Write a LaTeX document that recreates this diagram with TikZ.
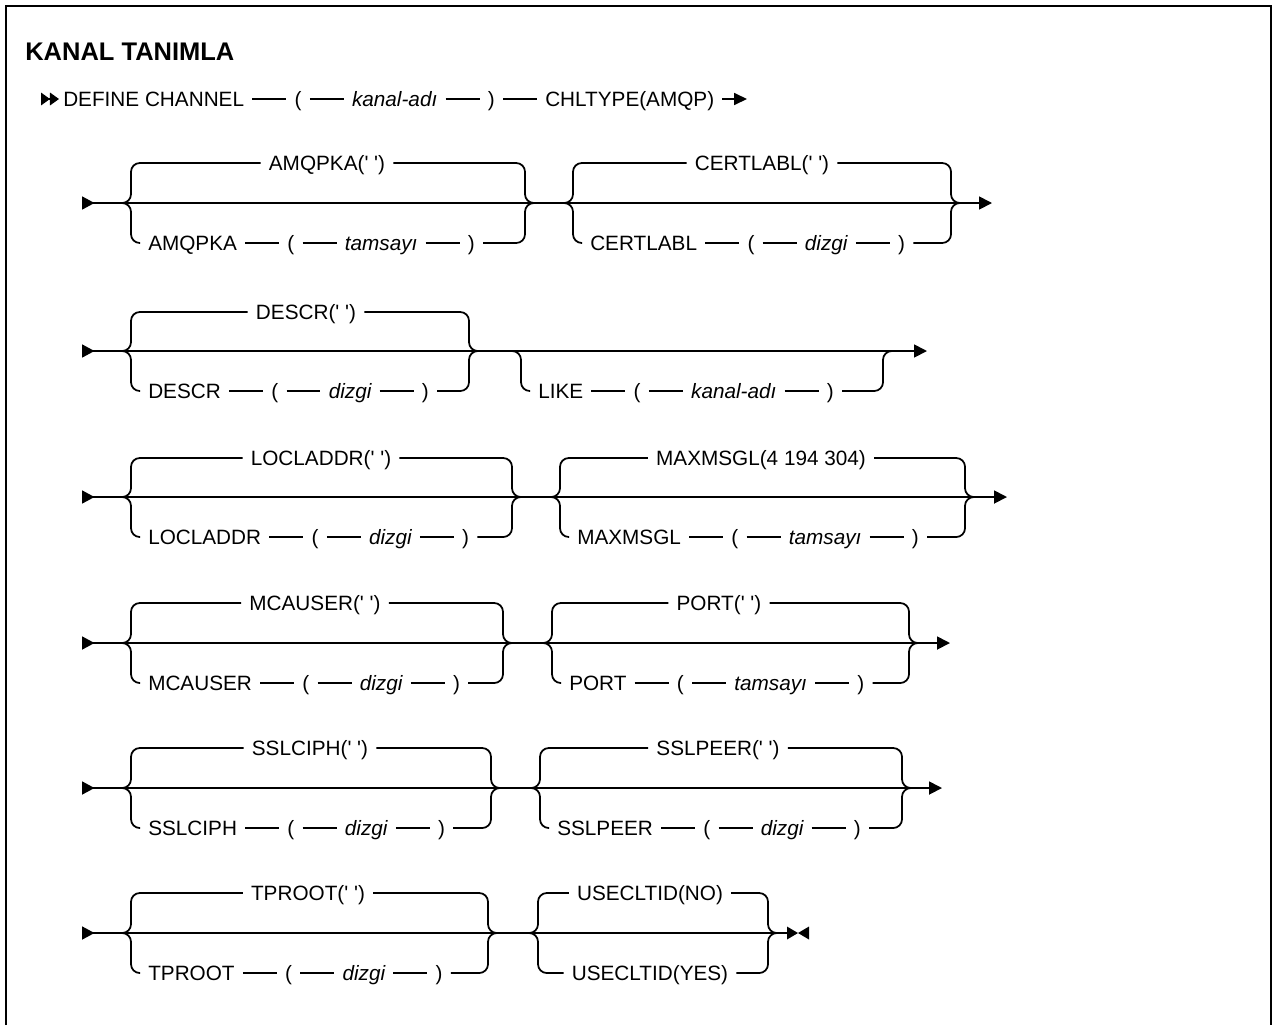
\documentclass[tikz,border=0pt]{standalone}
\usepackage{fontspec}
\setmainfont{Liberation Sans}
\usetikzlibrary{positioning,arrows.meta}
\newcommand{\apo}{\textquotesingle}

\begin{document}
\begin{tikzpicture}[x=0.02cm, y=-0.02cm, node distance=0.68cm,
        font=\fontsize{11.8}{14}\selectfont]
        \tikzset{
            tok/.style={inner xsep=4.5pt, inner ysep=0pt, text height=9pt, text depth=0.6pt},
            prm/.style={tok, font=\fontsize{11.8}{14}\selectfont\itshape},
            bar/.style={line width=1pt},
            brc/.style={bar, rounded corners=5pt},
            head/.style={bar, {Triangle[reversed, length=0.25cm, width=0.26cm]}-},
            row/.style={bar, {Triangle[reversed, length=0.25cm, width=0.26cm]}-{Triangle[length=0.26cm, width=0.26cm]}}
        }
        \useasboundingbox (0,0) rectangle (1273,1025);
        \draw[line width=1.4pt] (6,1025) |- (1271,6) -- (1271,1025);
        \node[anchor=west, inner sep=0pt, font=\fontsize{14.5}{17}\selectfont\bfseries] (title) at (25,52) {KANAL TANIMLA};
        %% ---- DEFINE CHANNEL ----
        \coordinate (r0s) at (41,99);
        \node[tok, anchor=west] (def) at (55,99) {DEFINE CHANNEL};
        \node[tok, right=of def] (d1) {(};
        \node[prm, right=of d1]  (d2) {kanal-adı};
        \node[tok, right=of d2]  (d3) {)};
        \node[tok, right=of d3]  (d4) {CHLTYPE(AMQP)};
        \coordinate (r0e) at (747,99);
        \draw[bar, {Triangle[reversed, length=0.18cm, width=0.25cm] Triangle[reversed, length=0.18cm, width=0.25cm]}-] (r0s) -- (def);
        \draw[bar] (def) -- (d1) -- (d2) -- (d3) -- (d4);
        \draw[bar, -{Triangle[length=0.26cm, width=0.24cm]}] (d4) -- (r0e);
        %% ---- AMQPKA / CERTLABL ----
        \coordinate (r1s) at (82,203);
        \coordinate (r1e) at (992,203);
        \draw[row] (r1s) -- (r1e);
        \coordinate (kaw) at (131,203);
        \coordinate (kae) at (525,203);
        \node[tok] (ka) at (327,163) {AMQPKA(\apo\ \apo)};
        \node[tok, anchor=west] (ka1) at (140,243) {AMQPKA};
        \node[tok, right=of ka1] (ka2) {(};
        \node[prm, right=of ka2] (ka3) {tamsayı};
        \node[tok, right=of ka3] (ka4) {)};
        \draw[brc] (kaw) ++(-9,0) -- (kaw) |- (ka.west);
        \draw[brc] (ka.east) -| (kae) -- ++(9,0);
        \draw[brc] (kaw) ++(-9,0) -- (kaw) |- (ka1.west);
        \draw[bar] (ka1) -- (ka2) -- (ka3) -- (ka4);
        \draw[brc] (ka4.east) -| (kae) -- ++(9,0);
        \coordinate (clw) at (573,203);
        \coordinate (cle) at (951,203);
        \node[tok] (cl) at (762,163) {CERTLABL(\apo\ \apo)};
        \node[tok, anchor=west] (cl1) at (582,243) {CERTLABL};
        \node[tok, right=of cl1] (cl2) {(};
        \node[prm, right=of cl2] (cl3) {dizgi};
        \node[tok, right=of cl3] (cl4) {)};
        \draw[brc] (clw) ++(-9,0) -- (clw) |- (cl.west);
        \draw[brc] (cl.east) -| (cle) -- ++(9,0);
        \draw[brc] (clw) ++(-9,0) -- (clw) |- (cl1.west);
        \draw[bar] (cl1) -- (cl2) -- (cl3) -- (cl4);
        \draw[brc] (cl4.east) -| (cle) -- ++(9,0);
        %% ---- DESCR / LIKE ----
        \coordinate (r2s) at (82,351);
        \coordinate (r2e) at (927,351);
        \draw[row] (r2s) -- (r2e);
        \coordinate (dsw) at (131,351);
        \coordinate (dse) at (469,351);
        \node[tok] (ds) at (306,312) {DESCR(\apo\ \apo)};
        \node[tok, anchor=west] (ds1) at (140,391) {DESCR};
        \node[tok, right=of ds1] (ds2) {(};
        \node[prm, right=of ds2] (ds3) {dizgi};
        \node[tok, right=of ds3] (ds4) {)};
        \draw[brc] (dsw) ++(-9,0) -- (dsw) |- (ds.west);
        \draw[brc] (ds.east) -| (dse) -- ++(9,0);
        \draw[brc] (dsw) ++(-9,0) -- (dsw) |- (ds1.west);
        \draw[bar] (ds1) -- (ds2) -- (ds3) -- (ds4);
        \draw[brc] (ds4.east) -| (dse) -- ++(9,0);
        \coordinate (lkw) at (521,351);
        \coordinate (lke) at (883,351);
        \node[tok, anchor=west] (lk1) at (530,391) {LIKE};
        \node[tok, right=of lk1] (lk2) {(};
        \node[prm, right=of lk2] (lk3) {kanal-adı};
        \node[tok, right=of lk3] (lk4) {)};
        \draw[brc] (lkw) ++(-9,0) -- (lkw) |- (lk1.west);
        \draw[bar] (lk1) -- (lk2) -- (lk3) -- (lk4);
        \draw[brc] (lk4.east) -| (lke) -- ++(9,0);
        %% ---- LOCLADDR / MAXMSGL ----
        \coordinate (r3s) at (82,497);
        \coordinate (r3e) at (1007,497);
        \draw[row] (r3s) -- (r3e);
        \coordinate (law) at (131,497);
        \coordinate (lae) at (512,497);
        \node[tok] (la) at (321,458) {LOCLADDR(\apo\ \apo)};
        \node[tok, anchor=west] (la1) at (140,537) {LOCLADDR};
        \node[tok, right=of la1] (la2) {(};
        \node[prm, right=of la2] (la3) {dizgi};
        \node[tok, right=of la3] (la4) {)};
        \draw[brc] (law) ++(-9,0) -- (law) |- (la.west);
        \draw[brc] (la.east) -| (lae) -- ++(9,0);
        \draw[brc] (law) ++(-9,0) -- (law) |- (la1.west);
        \draw[bar] (la1) -- (la2) -- (la3) -- (la4);
        \draw[brc] (la4.east) -| (lae) -- ++(9,0);
        \coordinate (msw) at (560,497);
        \coordinate (mse) at (965,497);
        \node[tok] (ms) at (761,458) {MAXMSGL(4 194 304)};
        \node[tok, anchor=west] (ms1) at (569,537) {MAXMSGL};
        \node[tok, right=of ms1] (ms2) {(};
        \node[prm, right=of ms2] (ms3) {tamsayı};
        \node[tok, right=of ms3] (ms4) {)};
        \draw[brc] (msw) ++(-9,0) -- (msw) |- (ms.west);
        \draw[brc] (ms.east) -| (mse) -- ++(9,0);
        \draw[brc] (msw) ++(-9,0) -- (msw) |- (ms1.west);
        \draw[bar] (ms1) -- (ms2) -- (ms3) -- (ms4);
        \draw[brc] (ms4.east) -| (mse) -- ++(9,0);
        %% ---- MCAUSER / PORT ----
        \coordinate (r4s) at (82,643);
        \coordinate (r4e) at (950,643);
        \draw[row] (r4s) -- (r4e);
        \coordinate (muw) at (131,643);
        \coordinate (mue) at (503,643);
        \node[tok] (mu) at (315,603) {MCAUSER(\apo\ \apo)};
        \node[tok, anchor=west] (mu1) at (140,683) {MCAUSER};
        \node[tok, right=of mu1] (mu2) {(};
        \node[prm, right=of mu2] (mu3) {dizgi};
        \node[tok, right=of mu3] (mu4) {)};
        \draw[brc] (muw) ++(-9,0) -- (muw) |- (mu.west);
        \draw[brc] (mu.east) -| (mue) -- ++(9,0);
        \draw[brc] (muw) ++(-9,0) -- (muw) |- (mu1.west);
        \draw[bar] (mu1) -- (mu2) -- (mu3) -- (mu4);
        \draw[brc] (mu4.east) -| (mue) -- ++(9,0);
        \coordinate (ptw) at (552,643);
        \coordinate (pte) at (909,643);
        \node[tok] (pt) at (719,603) {PORT(\apo\ \apo)};
        \node[tok, anchor=west] (pt1) at (561,683) {PORT};
        \node[tok, right=of pt1] (pt2) {(};
        \node[prm, right=of pt2] (pt3) {tamsayı};
        \node[tok, right=of pt3] (pt4) {)};
        \draw[brc] (ptw) ++(-9,0) -- (ptw) |- (pt.west);
        \draw[brc] (pt.east) -| (pte) -- ++(9,0);
        \draw[brc] (ptw) ++(-9,0) -- (ptw) |- (pt1.west);
        \draw[bar] (pt1) -- (pt2) -- (pt3) -- (pt4);
        \draw[brc] (pt4.east) -| (pte) -- ++(9,0);
        %% ---- SSLCIPH / SSLPEER ----
        \coordinate (r5s) at (82,788);
        \coordinate (r5e) at (942,788);
        \draw[row] (r5s) -- (r5e);
        \coordinate (scw) at (131,788);
        \coordinate (sce) at (491,788);
        \node[tok] (sc) at (310,748) {SSLCIPH(\apo\ \apo)};
        \node[tok, anchor=west] (sc1) at (140,828) {SSLCIPH};
        \node[tok, right=of sc1] (sc2) {(};
        \node[prm, right=of sc2] (sc3) {dizgi};
        \node[tok, right=of sc3] (sc4) {)};
        \draw[brc] (scw) ++(-9,0) -- (scw) |- (sc.west);
        \draw[brc] (sc.east) -| (sce) -- ++(9,0);
        \draw[brc] (scw) ++(-9,0) -- (scw) |- (sc1.west);
        \draw[bar] (sc1) -- (sc2) -- (sc3) -- (sc4);
        \draw[brc] (sc4.east) -| (sce) -- ++(9,0);
        \coordinate (spw) at (540,788);
        \coordinate (spe) at (902,788);
        \node[tok] (sp) at (718,748) {SSLPEER(\apo\ \apo)};
        \node[tok, anchor=west] (sp1) at (549,828) {SSLPEER};
        \node[tok, right=of sp1] (sp2) {(};
        \node[prm, right=of sp2] (sp3) {dizgi};
        \node[tok, right=of sp3] (sp4) {)};
        \draw[brc] (spw) ++(-9,0) -- (spw) |- (sp.west);
        \draw[brc] (sp.east) -| (spe) -- ++(9,0);
        \draw[brc] (spw) ++(-9,0) -- (spw) |- (sp1.west);
        \draw[bar] (sp1) -- (sp2) -- (sp3) -- (sp4);
        \draw[brc] (sp4.east) -| (spe) -- ++(9,0);
        %% ---- TPROOT / USECLTID ----
        \coordinate (r6s) at (82,933);
        \coordinate (r6e) at (787,933);
        \draw[head] (r6s) -- (r6e);
        \coordinate (trw) at (131,933);
        \coordinate (tre) at (488,933);
        \node[tok] (tr) at (308,893) {TPROOT(\apo\ \apo)};
        \node[tok, anchor=west] (tr1) at (140,973) {TPROOT};
        \node[tok, right=of tr1] (tr2) {(};
        \node[prm, right=of tr2] (tr3) {dizgi};
        \node[tok, right=of tr3] (tr4) {)};
        \draw[brc] (trw) ++(-9,0) -- (trw) |- (tr.west);
        \draw[brc] (tr.east) -| (tre) -- ++(9,0);
        \draw[brc] (trw) ++(-9,0) -- (trw) |- (tr1.west);
        \draw[bar] (tr1) -- (tr2) -- (tr3) -- (tr4);
        \draw[brc] (tr4.east) -| (tre) -- ++(9,0);
        \coordinate (ucw) at (538,933);
        \coordinate (uce) at (768,933);
        \node[tok] (uc)  at (650,893) {USECLTID(NO)};
        \node[tok] (ucy) at (650,973) {USECLTID(YES)};
        \draw[brc] (ucw) ++(-9,0) -- (ucw) |- (uc.west);
        \draw[brc] (uc.east) -| (uce) -- ++(9,0);
        \draw[brc] (ucw) ++(-9,0) -- (ucw) |- (ucy.west);
        \draw[brc] (ucy.east) -| (uce) -- ++(9,0);
        \fill (r6e) -- ++(0,-6.5) -- ++(11,6.5) -- ++(-11,6.5) -- cycle;
        \fill (r6e) ++(22,0) -- ++(0,-6.5) -- ++(-11,6.5) -- ++(11,6.5) -- cycle;
    \end{tikzpicture}
\end{document}
